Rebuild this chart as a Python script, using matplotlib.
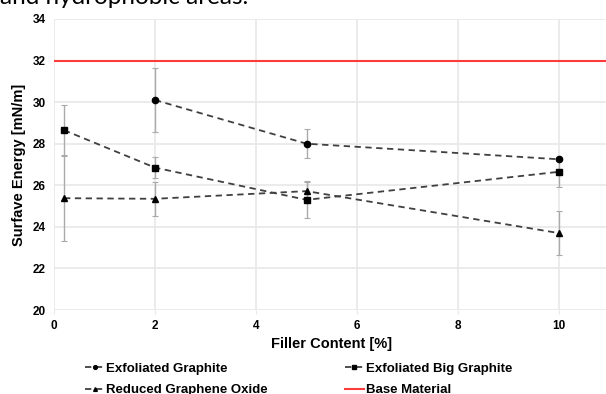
import matplotlib.pyplot as plt

# filler content [%]
x_eg = [2, 5, 10]
y_eg = [30.1, 28.0, 27.25]
e_eg = [1.55, 0.7, 0.1]

x_ebg = [0.2, 2, 5, 10]
y_ebg = [28.65, 26.85, 25.3, 26.65]
e_ebg = [1.22, 0.52, 0.85, 0.72]

x_rgo = [0.2, 2, 5, 10]
y_rgo = [25.38, 25.35, 25.72, 23.7]
e_rgo = [2.07, 0.82, 0.5, 1.05]

base_value = 32

plt.rcParams['font.family'] = ['Liberation Sans', 'DejaVu Sans']

fig = plt.figure(figsize=(6.06, 3.94), dpi=100)
ax = fig.add_axes([0.089, 0.213, 0.917, 0.739])

series = [
    (x_eg, y_eg, e_eg, 'o', 'Exfoliated Graphite'),
    (x_ebg, y_ebg, e_ebg, 's', 'Exfoliated Big Graphite'),
    (x_rgo, y_rgo, e_rgo, '^', 'Reduced Graphene Oxide'),
]
handles = []
for xs, ys, es, m, lab in series:
    ax.errorbar(xs, ys, yerr=es, fmt='none', ecolor='#aaaaaa', elinewidth=1,
                capsize=2, capthick=0.8, zorder=2)
    h, = ax.plot(xs, ys, linestyle=(0, (3.5, 2.5)), color='#404040', lw=1.3,
                 marker=m, markersize=4.5, markerfacecolor='black',
                 markeredgecolor='black', label=lab, zorder=3)
    handles.append(h)

hb = ax.axhline(base_value, color='#ff3b3b', lw=1.5, label='Base Material', zorder=2)

ax.set_xlim(0, 11)
ax.set_ylim(20, 34)
ax.set_xticks([0, 2, 4, 6, 8, 10])
ax.set_yticks(range(20, 35, 2))
ax.grid(True, color='#e8e8e8', lw=1.2)
ax.set_axisbelow(True)
for s in ax.spines.values():
    s.set_visible(False)
ax.tick_params(axis='x', length=3, color='#e8e8e8', labelsize=8.5, pad=4.5)
ax.tick_params(axis='y', length=0, labelsize=8.5, pad=6)
for t in ax.get_xticklabels() + ax.get_yticklabels():
    t.set_fontweight('bold')
ax.set_xlabel('Filler Content [%]', fontsize=10.5, fontweight='bold', labelpad=3)
ax.set_ylabel('Surfave Energy [mN/m]', fontsize=10.5, fontweight='bold', labelpad=5)

# column-major order so rows read EG | EBG, RGO | Base
fig.legend(handles=[handles[0], handles[2], handles[1], hb],
           labels=['Exfoliated Graphite', 'Reduced Graphene Oxide',
                   'Exfoliated Big Graphite', 'Base Material'],
           loc='upper left', bbox_to_anchor=(0.130, 0.097), ncol=2,
           frameon=False, prop={'weight': 'bold', 'size': 9.5},
           handlelength=1.45, handletextpad=0.15, columnspacing=5.8,
           labelspacing=0.72, markerscale=0.6, borderpad=0)

fig.text(0.0, 0.99, 'and hydrophobic areas.', fontsize=17.5, va='baseline',
         ha='left', family=['Lato', 'DejaVu Sans'])

fig.savefig('out.png', dpi=100)
